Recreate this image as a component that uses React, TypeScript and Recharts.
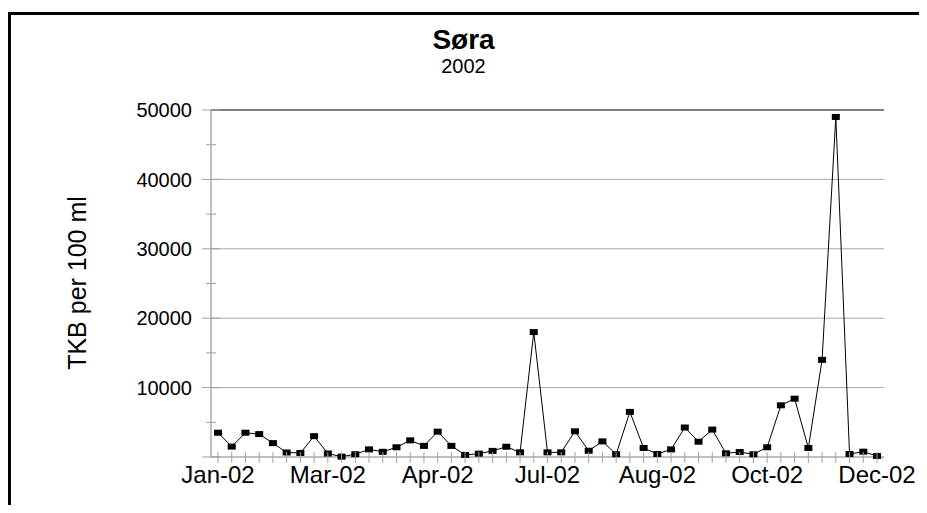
import React from 'react';
import { LineChart, Line, XAxis, YAxis, CartesianGrid, ReferenceLine } from 'recharts';

// sample dates (one per sampling round), shown as Mon-YY
const sampleDates = [
  'Jan-02', 'Jan-02', 'Jan-02', 'Jan-02', 'Feb-02', 'Feb-02', 'Feb-02', 'Feb-02',
  'Mar-02', 'Mar-02', 'Mar-02', 'Mar-02', 'Mar-02', 'Apr-02', 'Apr-02', 'Apr-02',
  'Apr-02', 'May-02', 'May-02', 'May-02', 'May-02', 'Jun-02', 'Jun-02', 'Jun-02',
  'Jul-02', 'Jul-02', 'Jul-02', 'Jul-02', 'Jul-02', 'Aug-02', 'Aug-02', 'Aug-02',
  'Aug-02', 'Sep-02', 'Sep-02', 'Sep-02', 'Sep-02', 'Sep-02', 'Oct-02', 'Oct-02',
  'Oct-02', 'Oct-02', 'Nov-02', 'Nov-02', 'Nov-02', 'Nov-02', 'Dec-02', 'Dec-02',
  'Dec-02',
];

// TKB per 100 ml
const tkb = [
  3500, 1500, 3500, 3300, 2000, 650, 580, 3000,
  500, 50, 400, 1100, 750, 1400, 2400, 1600,
  3650, 1600, 300, 480, 880, 1480, 670, 18000,
  670, 670, 3700, 900, 2250, 400, 6500, 1300,
  430, 1100, 4250, 2200, 3950, 530, 720, 390,
  1400, 7450, 8400, 1300, 14000, 49000, 430, 770,
  140,
];

const yTicks = [0, 5000, 10000, 15000, 20000, 25000, 30000, 35000, 40000, 45000, 50000];
const gridValues = [10000, 20000, 30000, 40000];

const data = sampleDates.map((date, i) => ({ date, tkb: tkb[i] }));

const FONT = '"Liberation Sans", Arial, sans-serif';
const X_TICK_SIZE = 6;
const X_TICK_MARGIN = 3;
const Y_TICK_SIZE = 8;
const Y_TICK_MARGIN = 11;

const SquareDot = (props: any) => {
  const { cx, cy } = props;
  if (cx == null || cy == null) return null;
  return <rect x={cx - 4} y={cy - 3} width={8} height={6} fill="#000" />;
};

// tick mark crosses the axis; label only every 8th sample
const XTick = (props: any) => {
  const { x, y, payload, index } = props;
  const axisY = y - X_TICK_SIZE - X_TICK_MARGIN;
  return (
    <g>
      <line x1={x} x2={x} y1={axisY - 5} y2={axisY + 6} stroke="#a0a0a0" />
      {index % 8 === 0 && (
        <text x={x} y={y} dy="0.71em" textAnchor="middle" fill="#000" fontSize={24} fontFamily={FONT}>
          {payload.value}
        </text>
      )}
    </g>
  );
};

// the zero label is left out, like the original
const YTick = (props: any) => {
  const { x, y, payload } = props;
  const axisX = x + Y_TICK_SIZE + Y_TICK_MARGIN;
  const major = payload.value % 10000 === 0;
  return (
    <g>
      <line x1={axisX - (major ? 9 : 5)} x2={axisX + (major ? 9 : 5)} y1={y} y2={y} stroke="#a0a0a0" />
      {major && payload.value > 0 && (
        <text x={x} y={y} dy="0.355em" textAnchor="end" fill="#000" fontSize={20} fontFamily={FONT}>
          {payload.value}
        </text>
      )}
    </g>
  );
};

export default function App() {
  return (
    <div style={{ position: 'relative', width: 919, height: 497, background: '#fff', fontFamily: FONT }}>
      <div style={{ position: 'absolute', left: 0, top: 4, width: 916, height: 498, borderTop: '3px solid #000', borderLeft: '3px solid #000' }} />
      <div style={{ position: 'absolute', left: 0, width: 911, top: 18, lineHeight: 1, textAlign: 'center', fontWeight: 'bold', fontSize: 28, color: '#000' }}>Søra</div>
      <div style={{ position: 'absolute', left: 0, width: 911, top: 48, lineHeight: 1, textAlign: 'center', fontSize: 20, color: '#000' }}>2002</div>
      <div style={{ position: 'absolute', left: 69, top: 275, width: 0, height: 0 }}>
        <div style={{ position: 'absolute', transform: 'translate(-50%, -50%) rotate(-90deg)', whiteSpace: 'nowrap', lineHeight: 1, fontSize: 25, color: '#000' }}>
          TKB per 100 ml
        </div>
      </div>
      <LineChart width={919} height={497} data={data} margin={{ top: 102, right: 43, bottom: 8, left: 100 }}>
        <CartesianGrid horizontal vertical={false} horizontalValues={gridValues} stroke="#a6a6a6" />
        <XAxis
          dataKey="date"
          interval={0}
          padding={{ left: 7, right: 7 }}
          height={40}
          tickSize={X_TICK_SIZE}
          tickMargin={X_TICK_MARGIN}
          stroke="#808080"
          tickLine={false}
          tick={<XTick />}
        />
        <YAxis
          domain={[0, 50000]}
          ticks={yTicks}
          interval={0}
          width={103}
          tickSize={Y_TICK_SIZE}
          tickMargin={Y_TICK_MARGIN}
          stroke="#808080"
          tickLine={false}
          tick={<YTick />}
        />
        <YAxis yAxisId="frame" orientation="right" width={0} domain={[0, 50000]} tick={false} tickLine={false} stroke="#000" />
        <ReferenceLine y={50000} stroke="#000" />
        <Line
          type="linear"
          dataKey="tkb"
          stroke="#000"
          strokeWidth={1}
          dot={<SquareDot />}
          activeDot={false}
          isAnimationActive={false}
        />
      </LineChart>
    </div>
  );
}
